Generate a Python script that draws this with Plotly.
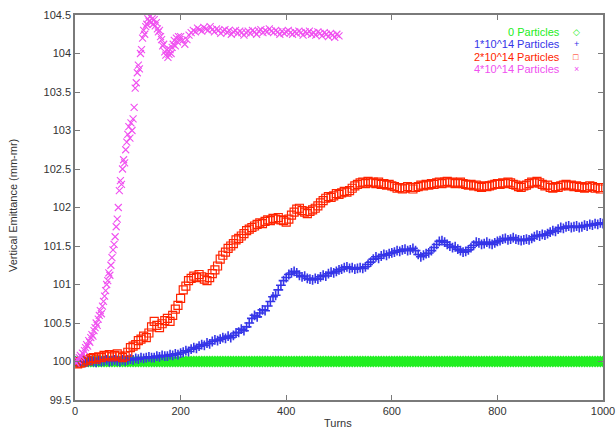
import plotly.graph_objects as go

# ---------------- data ----------------
turns_5 = list(range(0, 1001, 5))
pink_turns = list(range(0, 200, 2)) + list(range(200, 501, 4))

green_y = [
    100.0, 100.0, 100.0, 100.0, 100.0, 100.0, 100.0, 100.0, 100.0, 100.0,
    100.0, 100.0, 100.0, 100.0, 100.0, 100.0, 100.0, 100.0, 100.0, 100.0,
    100.0, 100.0, 100.0, 100.0, 100.0, 100.0, 100.0, 100.0, 100.0, 100.0,
    100.0, 100.0, 100.0, 100.0, 100.0, 100.0, 100.0, 100.0, 100.0, 100.0,
    100.0, 100.0, 100.0, 100.0, 100.0, 100.0, 100.0, 100.0, 100.0, 100.0,
    100.0, 100.0, 100.0, 100.0, 100.0, 100.0, 100.0, 100.0, 100.0, 100.0,
    100.0, 100.0, 100.0, 100.0, 100.0, 100.0, 100.0, 100.0, 100.0, 100.0,
    100.0, 100.0, 100.0, 100.0, 100.0, 100.0, 100.0, 100.0, 100.0, 100.0,
    100.0, 100.0, 100.0, 100.0, 100.0, 100.0, 100.0, 100.0, 100.0, 100.0,
    100.0, 100.0, 100.0, 100.0, 100.0, 100.0, 100.0, 100.0, 100.0, 100.0,
    100.0, 100.0, 100.0, 100.0, 100.0, 100.0, 100.0, 100.0, 100.0, 100.0,
    100.0, 100.0, 100.0, 100.0, 100.0, 100.0, 100.0, 100.0, 100.0, 100.0,
    100.0, 100.0, 100.0, 100.0, 100.0, 100.0, 100.0, 100.0, 100.0, 100.0,
    100.0, 100.0, 100.0, 100.0, 100.0, 100.0, 100.0, 100.0, 100.0, 100.0,
    100.0, 100.0, 100.0, 100.0, 100.0, 100.0, 100.0, 100.0, 100.0, 100.0,
    100.0, 100.0, 100.0, 100.0, 100.0, 100.0, 100.0, 100.0, 100.0, 100.0,
    100.0, 100.0, 100.0, 100.0, 100.0, 100.0, 100.0, 100.0, 100.0, 100.0,
    100.0, 100.0, 100.0, 100.0, 100.0, 100.0, 100.0, 100.0, 100.0, 100.0,
    100.0, 100.0, 100.0, 100.0, 100.0, 100.0, 100.0, 100.0, 100.0, 100.0,
    100.0, 100.0, 100.0, 100.0, 100.0, 100.0, 100.0, 100.0, 100.0, 100.0,
    100.0,
]

blue_y = [
    100.00, 99.99, 100.00, 100.01, 99.99, 100.00, 100.01, 100.00, 99.99, 100.01,
    100.00, 100.01, 100.02, 100.00, 100.01, 100.02, 100.01, 100.00, 100.02, 100.01,
    100.02, 100.03, 100.02, 100.04, 100.03, 100.05, 100.04, 100.05, 100.06, 100.05,
    100.05, 100.07, 100.06, 100.08, 100.07, 100.07, 100.09, 100.08, 100.10, 100.09,
    100.11, 100.12, 100.14, 100.13, 100.16, 100.18, 100.17, 100.20, 100.22, 100.21,
    100.24, 100.23, 100.26, 100.28, 100.27, 100.29, 100.31, 100.30, 100.33, 100.31,
    100.34, 100.37, 100.38, 100.42, 100.40, 100.45, 100.50, 100.56, 100.60, 100.58,
    100.63, 100.67, 100.66, 100.72, 100.78, 100.84, 100.86, 100.93, 100.99, 101.05,
    101.09, 101.13, 101.15, 101.17, 101.15, 101.12, 101.10, 101.11, 101.08, 101.07,
    101.06, 101.08, 101.07, 101.10, 101.12, 101.11, 101.14, 101.16, 101.15, 101.17,
    101.19, 101.20, 101.22, 101.23, 101.21, 101.22, 101.20, 101.21, 101.22, 101.21,
    101.23, 101.26, 101.29, 101.33, 101.36, 101.34, 101.37, 101.39, 101.38, 101.40,
    101.41, 101.42, 101.44, 101.43, 101.45, 101.46, 101.44, 101.45, 101.47, 101.44,
    101.39, 101.36, 101.38, 101.40, 101.41, 101.44, 101.48, 101.52, 101.56, 101.57,
    101.55, 101.52, 101.50, 101.48, 101.49, 101.46, 101.44, 101.42, 101.43, 101.45,
    101.48, 101.51, 101.55, 101.54, 101.52, 101.53, 101.55, 101.53, 101.52, 101.54,
    101.56, 101.57, 101.59, 101.60, 101.58, 101.59, 101.61, 101.59, 101.58, 101.57,
    101.58, 101.59, 101.58, 101.60, 101.62, 101.64, 101.63, 101.65, 101.64, 101.66,
    101.68, 101.70, 101.69, 101.72, 101.74, 101.73, 101.75, 101.76, 101.74, 101.75,
    101.76, 101.74, 101.75, 101.77, 101.76, 101.78, 101.77, 101.79, 101.78, 101.80,
    101.79,
]

red_y = [
    100.00, 99.97, 99.98, 99.99, 100.02, 100.01, 100.04, 100.05, 100.03, 100.06,
    100.05, 100.08, 100.07, 100.09, 100.06, 100.08, 100.10, 100.07, 100.05, 100.07,
    100.12, 100.18, 100.20, 100.22, 100.27, 100.29, 100.33, 100.31, 100.37, 100.45,
    100.52, 100.47, 100.44, 100.49, 100.53, 100.56, 100.52, 100.60, 100.68, 100.73,
    100.82, 100.93, 100.98, 101.05, 101.08, 101.11, 101.09, 101.13, 101.10, 101.07,
    101.05, 101.09, 101.14, 101.19, 101.24, 101.33, 101.38, 101.42, 101.47, 101.50,
    101.53, 101.58, 101.60, 101.63, 101.66, 101.70, 101.72, 101.74, 101.76, 101.78,
    101.80, 101.79, 101.82, 101.84, 101.83, 101.86, 101.85, 101.87, 101.84, 101.83,
    101.81, 101.85, 101.90, 101.94, 101.98, 101.99, 101.96, 101.94, 101.92, 101.95,
    101.97, 101.99, 102.02, 102.06, 102.09, 102.12, 102.14, 102.13, 102.15, 102.18,
    102.17, 102.19, 102.21, 102.20, 102.22, 102.25, 102.28, 102.30, 102.32, 102.33,
    102.31, 102.34, 102.32, 102.33, 102.31, 102.33, 102.30, 102.31, 102.29, 102.30,
    102.28, 102.27, 102.25, 102.26, 102.24, 102.25, 102.27, 102.26, 102.24, 102.26,
    102.27, 102.29, 102.28, 102.30, 102.29, 102.31, 102.30, 102.32, 102.33, 102.31,
    102.33, 102.34, 102.32, 102.33, 102.31, 102.32, 102.33, 102.31, 102.30, 102.29,
    102.30, 102.28, 102.29, 102.27, 102.26, 102.28, 102.27, 102.28, 102.29, 102.30,
    102.31, 102.30, 102.32, 102.31, 102.33, 102.32, 102.30, 102.29, 102.27, 102.26,
    102.28, 102.29, 102.31, 102.33, 102.32, 102.34, 102.32, 102.30, 102.28, 102.29,
    102.26, 102.25, 102.27, 102.26, 102.28, 102.29, 102.30, 102.28, 102.29, 102.27,
    102.28, 102.26, 102.27, 102.25, 102.26, 102.28, 102.27, 102.25, 102.26, 102.24,
    102.26,
]

pink_y = [
    # turns 0..198 every 2
    100.00, 99.98, 100.02, 100.01, 100.05, 100.08, 100.06, 100.11, 100.10, 100.14,
    100.18, 100.22, 100.20, 100.27, 100.25, 100.31, 100.35, 100.33, 100.40, 100.44,
    100.50, 100.47, 100.55, 100.60, 100.66, 100.62, 100.72, 100.78, 100.85, 100.92,
    101.00, 101.05, 101.15, 101.12, 101.25, 101.35, 101.45, 101.52, 101.62, 101.75,
    101.85, 102.00, 102.22, 102.35, 102.30, 102.50, 102.62, 102.58, 102.75, 102.85,
    102.95, 103.05, 102.90, 103.10, 103.00, 103.15, 103.30, 103.55, 103.62, 103.75,
    103.85, 103.80, 104.00, 104.05, 104.20, 104.30, 104.25, 104.35, 104.38, 104.45,
    104.42, 104.48, 104.40, 104.45, 104.38, 104.44, 104.36, 104.40, 104.32, 104.28,
    104.30, 104.22, 104.18, 104.10, 104.12, 104.02, 103.98, 104.05, 103.95, 103.99,
    104.05, 104.00, 104.08, 104.12, 104.17, 104.10, 104.20, 104.15, 104.22, 104.18,
    # turns 200..500 every 4
    104.22, 104.17, 104.12, 104.18, 104.24, 104.27, 104.30, 104.28, 104.33, 104.31,
    104.29, 104.34, 104.32, 104.30, 104.35, 104.31, 104.28, 104.32, 104.30, 104.26,
    104.29, 104.31, 104.27, 104.30, 104.25, 104.28, 104.30, 104.26, 104.29, 104.27,
    104.24, 104.27, 104.29, 104.26, 104.30, 104.28, 104.25, 104.29, 104.31, 104.27,
    104.30, 104.28, 104.32, 104.29, 104.27, 104.30, 104.28, 104.25, 104.29, 104.26,
    104.28, 104.30, 104.27, 104.25, 104.28, 104.26, 104.29, 104.27, 104.24, 104.28,
    104.26, 104.29, 104.25, 104.27, 104.24, 104.28, 104.26, 104.23, 104.27, 104.25,
    104.22, 104.26, 104.24, 104.21, 104.25, 104.23,
]

series_names = ["0 Particles", "1*10^14 Particles", "2*10^14 Particles", "4*10^14 Particles"]
legend_glyphs = ["◇", "+", "□", "×"]
colors = ["#22ee22", "#3535e8", "#ff2400", "#f050f0"]

y_tickvals = [99.5, 100, 100.5, 101, 101.5, 102, 102.5, 103, 103.5, 104, 104.5]
y_ticktext = ["99.5", "100", "100.5", "101", "101.5", "102", "102.5", "103", "103.5", "104", "104.5"]
x_tickvals = [0, 200, 400, 600, 800, 1000]
x_ticktext = ["0", "200", "400", "600", "800", "1000"]

FONT = "Liberation Sans, Arial, Helvetica, sans-serif"

fig = go.Figure()
fig.add_trace(go.Scatter(x=turns_5, y=green_y, mode="markers", name=series_names[0],
                         marker=dict(symbol="diamond-open", size=7, color=colors[0],
                                     line=dict(width=2, color=colors[0]))))
fig.add_trace(go.Scatter(x=turns_5, y=blue_y, mode="markers", name=series_names[1],
                         marker=dict(symbol="cross-thin-open", size=7, color=colors[1],
                                     line=dict(width=1.6, color=colors[1]))))
fig.add_trace(go.Scatter(x=turns_5, y=red_y, mode="markers", name=series_names[2],
                         marker=dict(symbol="square-open", size=8, color=colors[2],
                                     line=dict(width=1.2, color=colors[2]))))
fig.add_trace(go.Scatter(x=pink_turns, y=pink_y, mode="markers", name=series_names[3],
                         marker=dict(symbol="x-thin-open", size=7, color=colors[3],
                                     line=dict(width=1.1, color=colors[3]))))

# gnuplot-like key: right aligned text, symbol to the right
for i, (nm, gl, c) in enumerate(zip(series_names, legend_glyphs, colors)):
    yy = 1 - (17 + 12.3 * i) / 385.0
    fig.add_annotation(xref="paper", yref="paper", x=(562 - 75) / 528.0, y=yy,
                       text=nm, showarrow=False, xanchor="right", yanchor="middle",
                       font=dict(family=FONT, size=11, color=c))
    fig.add_annotation(xref="paper", yref="paper", x=(576 - 75) / 528.0, y=yy,
                       text=gl, showarrow=False, xanchor="center", yanchor="middle",
                       font=dict(family=FONT, size=9, color=c))

fig.add_annotation(xref="paper", yref="paper", x=(338 - 75) / 528.0, y=-23 / 385.0,
                   text="Turns", showarrow=False, xanchor="center", yanchor="middle",
                   font=dict(family=FONT, size=11, color="#333333"))
fig.add_annotation(xref="paper", yref="paper", x=-62 / 528.0, y=(400 - 206) / 385.0,
                   text="Vertical Emittance (mm-mr)", showarrow=False, textangle=-90,
                   xanchor="center", yanchor="middle",
                   font=dict(family=FONT, size=11, color="#333333"))

axis_common = dict(showline=True, linecolor="#7a7a7a", linewidth=1.5, mirror="ticks",
                   ticks="inside", ticklen=5, tickcolor="#7a7a7a", tickwidth=1,
                   showgrid=False, zeroline=False, automargin=False,
                   tickfont=dict(family=FONT, size=11, color="#333333"))

fig.update_layout(
    width=616, height=430,
    margin=dict(l=75, r=13, t=15, b=30),
    paper_bgcolor="white", plot_bgcolor="white",
    showlegend=False,
    xaxis=dict(range=[0, 1000], tickvals=x_tickvals, ticktext=x_ticktext, **axis_common),
    yaxis=dict(range=[99.5, 104.5], tickvals=y_tickvals, ticktext=y_ticktext, **axis_common),
)

fig.write_html("out.html")
